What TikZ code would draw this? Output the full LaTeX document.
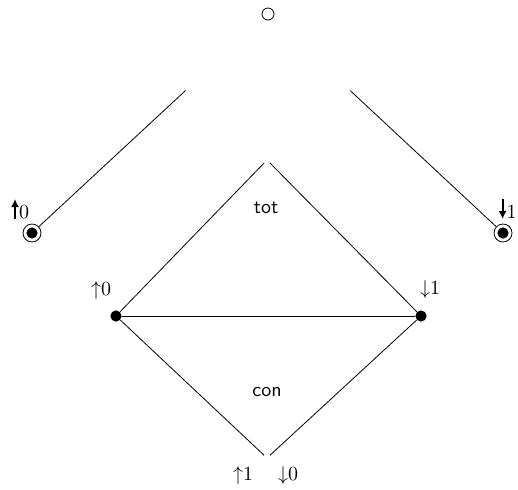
\documentclass[tikz,border=0pt]{standalone}
\usepackage{amsmath}
\usetikzlibrary{arrows.meta}
\newcommand{\boldup}{\tikz[baseline=0pt]\draw[line width=1.1pt,-{Latex[length=4pt,width=4pt]}] (0,-0.5pt) -- (0,9.5pt);}
\newcommand{\bolddown}{\tikz[baseline=0pt]\draw[line width=1.1pt,-{Latex[length=4pt,width=4pt]}] (0,9.5pt) -- (0,-0.5pt);}

\begin{document}
\begin{tikzpicture}[
            x=0.5pt, y=-0.5pt,
            font=\normalsize,
            dot/.style={circle, fill=black, inner sep=0pt, minimum size=5.6pt},
            ringdot/.style={circle, draw, thin, inner sep=0pt, minimum size=9pt,
                path picture={\fill (path picture bounding box.center) circle (2.8pt);}},
            hollow/.style={circle, draw, thin, inner sep=0pt, minimum size=6pt},
            edge/.style={thin},
            lbl/.style={inner sep=0pt}
        ]
        \useasboundingbox (0,0) rectangle (518,489);

        %% ── SOMMETS ──────────────────────────────────────
        \node[hollow] (top) at (268,14) {};
        \node[ringdot] (out_l) at (32,233) {};
        \node[ringdot] (out_r) at (503,233) {};
        \node[dot] (in_l) at (116,316) {};
        \node[dot] (in_r) at (421,316) {};
        \coordinate (apex) at (267,160);
        \coordinate (bottom) at (267,458);

        %% ── ÉTIQUETTES ───────────────────────────────────
        \node[lbl] (lab_out_l) at (20,209) {\boldup$0$};
        \node[lbl, anchor=east] (lab_out_r) at (517,209) {\bolddown$1$};
        \node[lbl] (lab_in_l) at (101,290) {${\uparrow}0$};
        \node[lbl] (lab_in_r) at (430,289) {${\downarrow}1$};
        \node[lbl] (lab_bot_l) at (243,475) {${\uparrow}1$};
        \node[lbl] (lab_bot_r) at (288,475) {${\downarrow}0$};
        \node[lbl] (tot) at (266,208) {\textsf{tot}};
        \node[lbl] (con) at (267,392) {\textsf{con}};

        %% ── ARÊTES ───────────────────────────────────────
        \draw[edge, shorten >=53pt] (out_l) -- (top);
        \draw[edge, shorten >=53pt] (out_r) -- (top);

        \draw[edge, shorten >=2pt] (in_l) -- (apex);
        \draw[edge, shorten >=2pt] (in_r) -- (apex);
        \draw[edge] (in_l) -- (in_r);
        \draw[edge, shorten >=2pt] (in_l) -- (bottom);
        \draw[edge, shorten >=2pt] (in_r) -- (bottom);

\end{tikzpicture}
\end{document}
